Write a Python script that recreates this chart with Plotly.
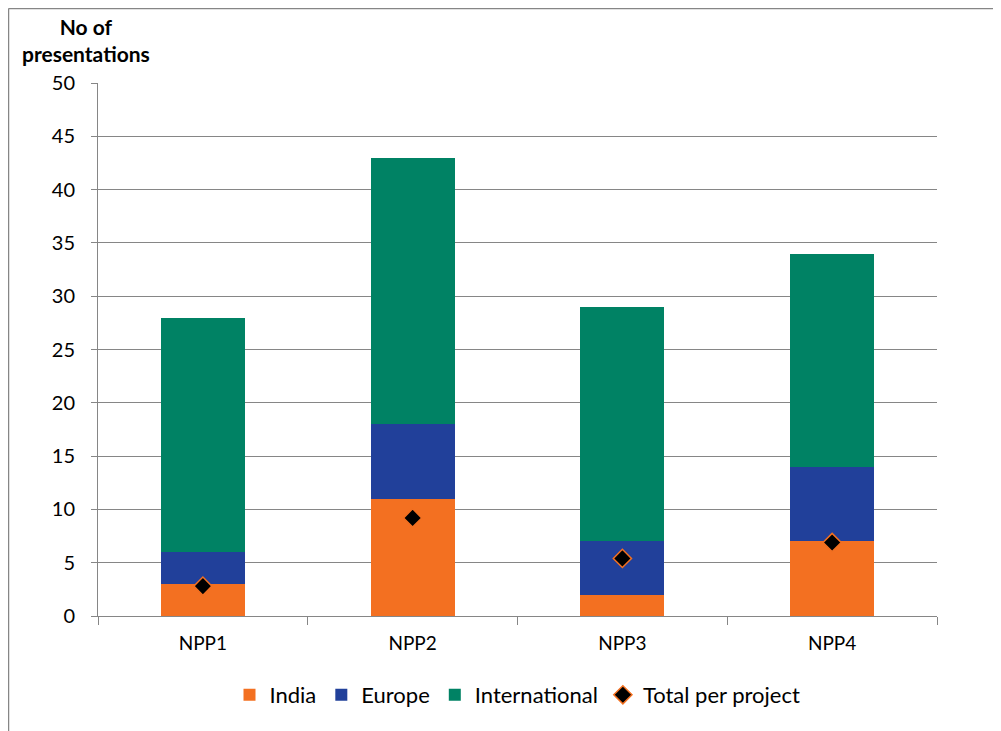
import plotly.graph_objects as go

categories = ["NPP1", "NPP2", "NPP3", "NPP4"]
india = [3, 11, 2, 7]
europe = [3, 7, 5, 7]
international = [22, 25, 22, 20]
total_per_project = [2.8, 9.2, 5.4, 6.9]
y_ticks = [0, 5, 10, 15, 20, 25, 30, 35, 40, 45, 50]

FONT = "Lato"
fig = go.Figure()
fig.add_bar(x=categories, y=india, name="India", marker=dict(color="#F37021", line=dict(width=0)))
fig.add_bar(x=categories, y=europe, name="Europe", marker=dict(color="#21409A", line=dict(width=0)))
fig.add_bar(x=categories, y=international, name="International", marker=dict(color="#008264", line=dict(width=0)))
fig.add_scatter(x=categories, y=total_per_project, name="Total per project", mode="markers",
                marker=dict(symbol="diamond", size=14, color="black", line=dict(color="#F37021", width=1.5)))

OFF = 8  # page body margin
W, H = 1001, 731
L, R, T, B = 98 - OFF, W - (937 - OFF), 83 - OFF, H - (616 - OFF)
pw, ph = W - L - R, H - T - B

def px_x(sx):
    return (sx - OFF - L) / pw

def px_y(sy):
    return (H - B - (sy - OFF)) / ph

fig.update_layout(
    width=W, height=H, barmode="stack", bargap=0.6,
    margin=dict(l=L, r=R, t=T, b=B),
    plot_bgcolor="white", paper_bgcolor="white",
    font=dict(family=FONT, size=19, color="black"),
    legend=dict(orientation="h", x=0.5, xanchor="center", y=px_y(695), yanchor="middle",
                font=dict(size=22), itemwidth=30, traceorder="normal"),
    xaxis=dict(showline=True, linecolor="#868686", linewidth=1, ticks="outside", tickson="boundaries",
               ticklen=8, tickcolor="#868686", tickfont=dict(size=19), showgrid=False,
               ticklabelstandoff=10),
    yaxis=dict(range=[0, 50], tickvals=y_ticks, showline=True, linecolor="#868686", linewidth=1,
               ticks="outside", ticklen=6, tickcolor="#868686", gridcolor="#868686", gridwidth=1,
               ticklabelstandoff=12, zeroline=False, tickfont=dict(size=20)),
    annotations=[dict(text="<b>No of<br>presentations</b>", xref="paper", yref="paper",
                      x=px_x(86), y=px_y(40), xanchor="center", yanchor="middle", showarrow=False,
                      font=dict(size=21, family=FONT))],
    shapes=[
        dict(type="line", xref="paper", yref="paper", x0=px_x(8.5), x1=px_x(1010), y0=px_y(8.5), y1=px_y(8.5),
             line=dict(color="#868686", width=1.5)),
        dict(type="line", xref="paper", yref="paper", x0=px_x(8.5), x1=px_x(8.5), y0=px_y(8.5), y1=px_y(740),
             line=dict(color="#868686", width=1.5)),
    ],
)
fig.write_html("out.html")
